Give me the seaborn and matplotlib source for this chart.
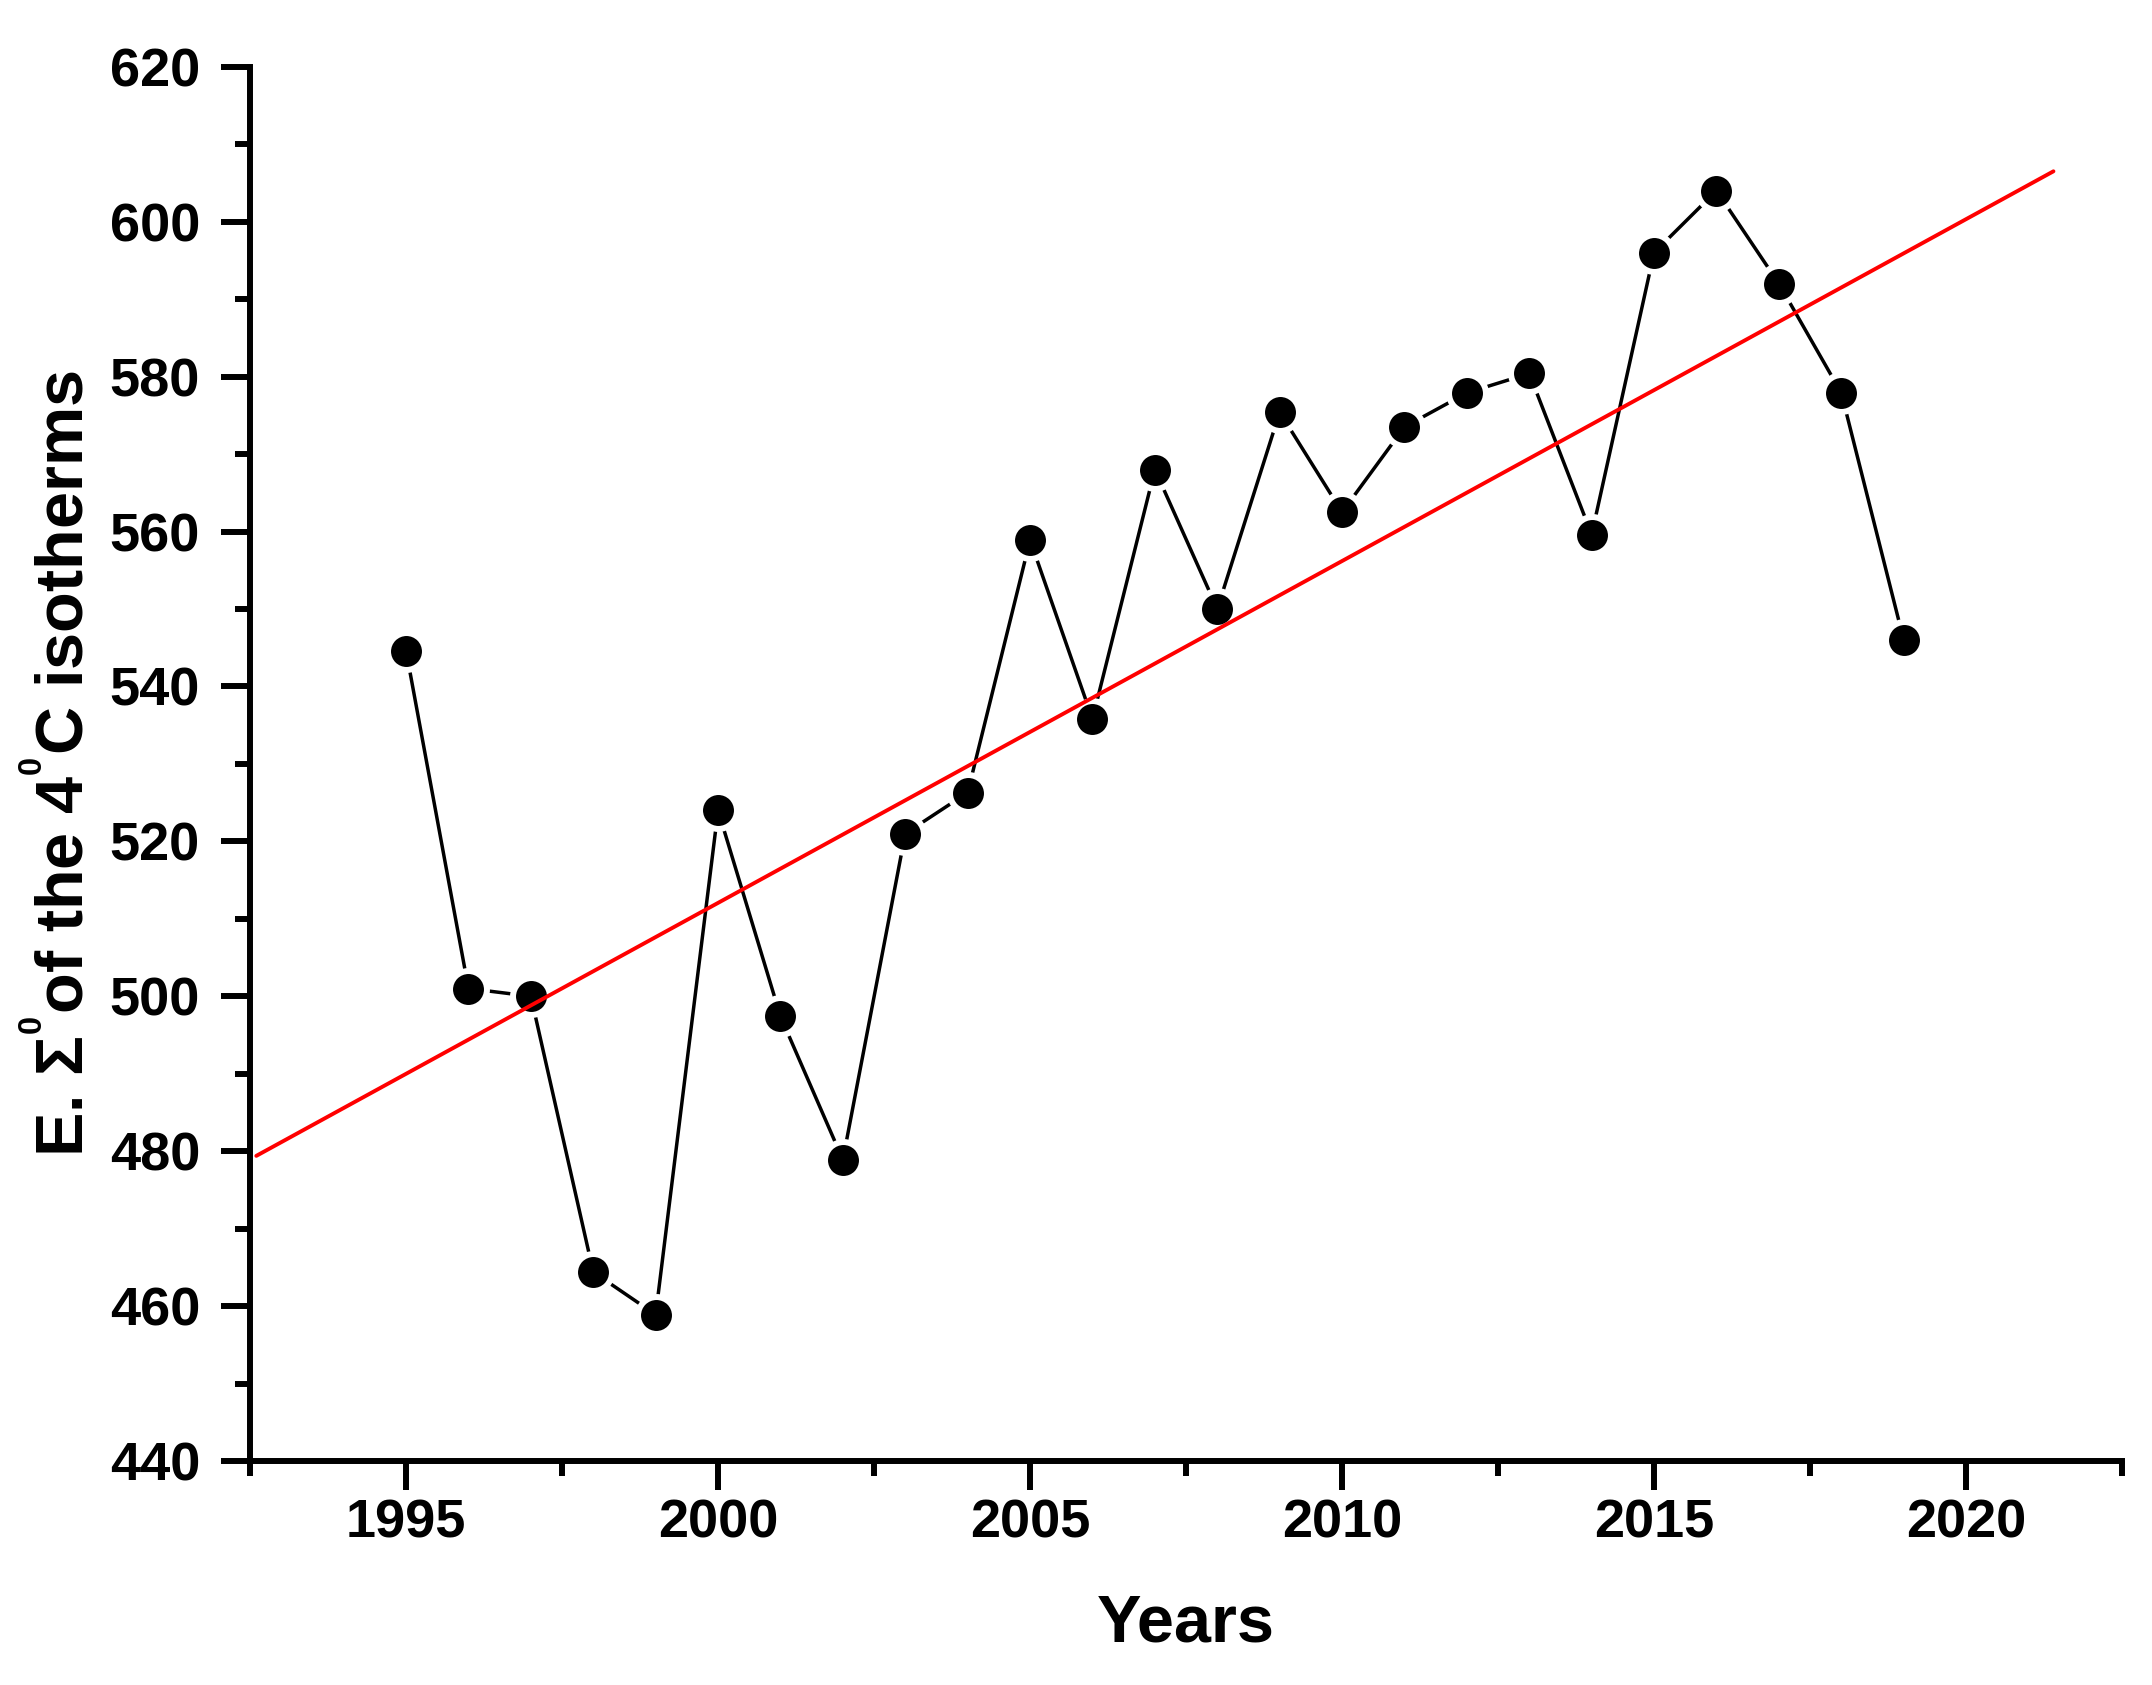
import numpy as np
import pandas as pd
import matplotlib
matplotlib.use("Agg")
import matplotlib.pyplot as plt
import seaborn as sns
from matplotlib.ticker import MultipleLocator

# values
years = [1995, 1996, 1997, 1998, 1999, 2000, 2001, 2002, 2003, 2004,
         2005, 2006, 2007, 2008, 2009, 2010, 2011, 2012, 2013, 2014,
         2015, 2016, 2017, 2018, 2019]
isotherm_sum = [544.6, 501.0, 500.0, 464.4, 458.9, 524.0, 497.4, 478.9, 521.0, 526.3,
                558.9, 535.8, 568.0, 550.0, 575.4, 562.5, 573.5, 577.9, 580.4, 559.6,
                596.0, 604.0, 592.0, 577.9, 546.0]

# linear trend line (end points)
trend_years = [1992.6, 2021.4]
trend_values = [479.4, 606.5]

data = pd.DataFrame({"year": years, "value": isotherm_sum})
trend = pd.DataFrame({"year": trend_years, "value": trend_values})

sns.set_theme(style="ticks")
plt.rcParams["font.family"] = ["Liberation Sans", "DejaVu Sans"]
plt.rcParams["font.weight"] = "bold"
plt.rcParams["text.color"] = "black"
plt.rcParams["axes.labelcolor"] = "black"
plt.rcParams["mathtext.fontset"] = "custom"
plt.rcParams["mathtext.rm"] = "Liberation Sans:bold"
plt.rcParams["mathtext.it"] = "Liberation Sans:bold"
plt.rcParams["mathtext.bf"] = "Liberation Sans:bold"
plt.rcParams["mathtext.sf"] = "Liberation Sans:bold"

fig = plt.figure(figsize=(21.52, 16.85), dpi=100)
ax = fig.add_axes([0.1162, 0.1329, 0.8699, 0.8275])

sns.lineplot(
    data=data, x="year", y="value", ax=ax,
    color="black", linewidth=2.5,
    marker="o", markersize=26.6,
    markerfacecolor="black", markeredgecolor="white", markeredgewidth=4.3,
)
sns.lineplot(data=trend, x="year", y="value", ax=ax, color="red", linewidth=2.8)

ax.set_xlim(1992.5, 2022.5)
ax.set_ylim(440, 620)
ax.xaxis.set_major_locator(MultipleLocator(5))
ax.xaxis.set_minor_locator(MultipleLocator(2.5))
ax.yaxis.set_major_locator(MultipleLocator(20))
ax.yaxis.set_minor_locator(MultipleLocator(10))

sns.despine(ax=ax)
for side in ["left", "bottom"]:
    ax.spines[side].set_linewidth(4.3)
    ax.spines[side].set_color("black")

ax.tick_params(which="major", direction="out", length=21, width=4.3,
               colors="black", labelsize=39)
ax.tick_params(which="minor", direction="out", length=11, width=4.3, colors="black")
ax.tick_params(axis="y", which="major", pad=15)
ax.tick_params(axis="x", which="major", pad=6)
for lab in ax.get_xticklabels() + ax.get_yticklabels():
    lab.set_fontweight("bold")

ax.set_xlabel("Years", fontsize=48, fontweight="bold", color="black", labelpad=32)
ax.set_ylabel(r"E. $\Sigma^{{}^0}$of the 4$^{{}^0}$C isotherms",
              fontsize=48, fontweight="bold", color="black", labelpad=9)

fig.savefig("out.png", dpi=100)
